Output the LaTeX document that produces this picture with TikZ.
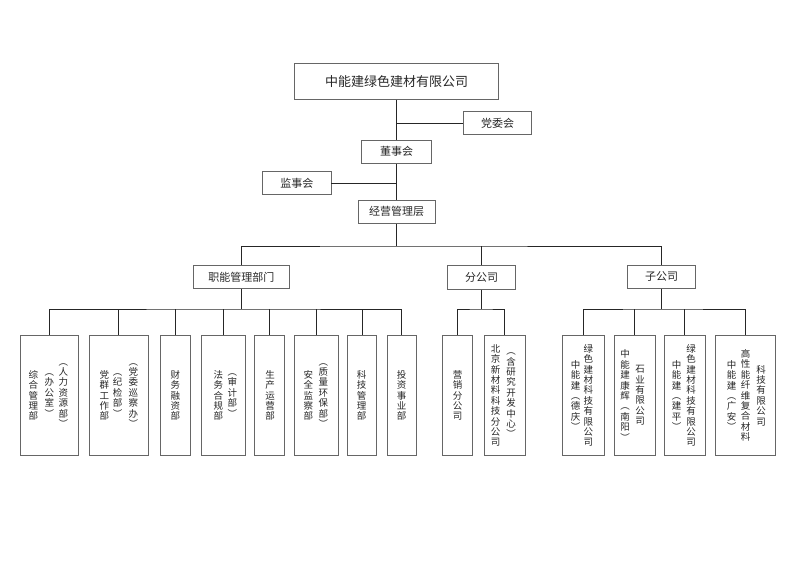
\documentclass[tikz,border=0pt]{standalone}
\usepackage{fontspec}
\setmainfont{Noto Sans CJK SC}

\begin{document}
\begin{tikzpicture}[x=1pt,y=-1pt,
  box/.style={draw=black!60, line width=0.9pt, inner sep=0pt, text=black!85, font=\fontsize{11}{13}\selectfont},
  col/.style={align=center, inner sep=0pt, text=black!85, font=\fontsize{9.5}{10.4}\selectfont},
  link/.style={draw=black!85, line width=0.7pt}]
\useasboundingbox (0,0) rectangle (800,565);

\node[box, minimum width=204.7pt, minimum height=36pt, font=\fontsize{13}{15}\selectfont] (v1) at (396.5,81.3) {中能建绿色建材有限公司};
\node[box, minimum width=68.4pt, minimum height=22.6pt] (v2) at (497.5,123) {党委会};
\node[box, minimum width=70pt, minimum height=23.3pt] (v3) at (396.5,151.7) {董事会};
\node[box, minimum width=68.3pt, minimum height=22.6pt] (v4) at (296.8,183) {监事会};
\node[box, minimum width=77pt, minimum height=23.3pt] (v5) at (396.5,211.7) {经营管理层};
\node[box, minimum width=96pt, minimum height=23pt] (v6) at (241.3,277.2) {职能管理部门};
\node[box, minimum width=68.4pt, minimum height=23.6pt] (v7) at (481.5,277.5) {分公司};
\node[box, minimum width=68.4pt, minimum height=23.7pt] (v8) at (661.5,276.8) {子公司};

\draw [link] (v1) -- (v3);
\draw [link] (v3) -- (v5);
\draw [link] (v2.west) -- (v2.west -| v1);
\draw [link] (v4.east) -- (v4.east -| v3);
\coordinate (b1) at (396.5,246);
\draw [link] (v5) -- (b1);
\draw [link] (v6) |- (b1) -| (v8);
\draw [link] (v7) -- (v7 |- b1);

\node[box, minimum width=58pt, minimum height=120pt] (w1) at (49.7,395.5) {};
\node[box, minimum width=59pt, minimum height=120pt] (w2) at (118.8,395.5) {};
\node[box, minimum width=29.3pt, minimum height=120pt] (w3) at (175.3,395.5) {};
\node[box, minimum width=44pt, minimum height=120pt] (w4) at (223.7,395.5) {};
\node[box, minimum width=30.4pt, minimum height=120pt] (w5) at (269.5,395.5) {};
\node[box, minimum width=44pt, minimum height=120pt] (w6) at (316.3,395.5) {};
\node[box, minimum width=29.4pt, minimum height=120pt] (w7) at (362,395.5) {};
\node[box, minimum width=29.7pt, minimum height=120pt] (w8) at (401.8,395.5) {};
\node[box, minimum width=30pt, minimum height=120pt] (w9) at (457.7,395.5) {};
\node[box, minimum width=40.7pt, minimum height=120pt] (w10) at (504.7,395.5) {};
\node[box, minimum width=41.7pt, minimum height=120pt] (w11) at (583.2,395.5) {};
\node[box, minimum width=41.7pt, minimum height=120pt] (w12) at (634.8,395.5) {};
\node[box, minimum width=40.3pt, minimum height=120pt] (w13) at (684.8,395.5) {};
\node[box, minimum width=59.7pt, minimum height=120pt] (w14) at (745.2,395.5) {};

\coordinate (b2) at (241.3,309);
\draw [link] (v6) -- (b2);
\draw [link] (w1) |- (b2) -| (w8);
\draw [link] (w2) -- (w2 |- b2);
\draw [link] (w3) -- (w3 |- b2);
\draw [link] (w4) -- (w4 |- b2);
\draw [link] (w5) -- (w5 |- b2);
\draw [link] (w6) -- (w6 |- b2);
\draw [link] (w7) -- (w7 |- b2);
\coordinate (b3) at (481.5,309);
\draw [link] (v7) -- (b3);
\draw [link] (w9) |- (b3) -| (w10);
\coordinate (b4) at (661.5,309);
\draw [link] (v8) -- (b4);
\draw [link] (w11) |- (b4) -| (w14);
\draw [link] (w12) -- (w12 |- b4);
\draw [link] (w13) -- (w13 |- b4);

\node[col] (t1a) at (33.3,395.5) {综\\合\\管\\理\\部};
\node[col] (t1b) at (49.3,395.5) {︵\\办\\公\\室\\︶};
\node[col] (t1c) at (63.3,395.5) {︵\\人\\力\\资\\源\\部\\︶};
\node[col] (t2a) at (104.3,395.5) {党\\群\\工\\作\\部};
\node[col] (t2b) at (117.7,395.5) {︵\\纪\\检\\部\\︶};
\node[col] (t2c) at (133.3,395.5) {︵\\党\\委\\巡\\察\\办\\︶};
\node[col] (t3a) at (175.3,395.5) {财\\务\\融\\资\\部};
\node[col] (t4a) at (218.3,395.5) {法\\务\\合\\规\\部};
\node[col] (t4b) at (232.3,395.5) {︵\\审\\计\\部\\︶};
\node[col] (t5a) at (270,395.5) {生\\产\\运\\营\\部};
\node[col] (t6a) at (308.3,395.5) {安\\全\\监\\察\\部};
\node[col] (t6b) at (323.3,395.5) {︵\\质\\量\\环\\保\\部\\︶};
\node[col] (t7a) at (361.7,395.5) {科\\技\\管\\理\\部};
\node[col] (t8a) at (401.7,395.5) {投\\资\\事\\业\\部};
\node[col] (t9a) at (457.7,395.5) {营\\销\\分\\公\\司};
\node[col] (t10a) at (495.7,395.5) {北\\京\\新\\材\\料\\科\\技\\分\\公\\司};
\node[col] (t10b) at (511,395.5) {︵\\含\\研\\究\\开\\发\\中\\心\\︶};
\node[col] (t11a) at (575.7,395.5) {中\\能\\建\\︵\\德\\庆\\︶};
\node[col] (t11b) at (588.3,395.5) {绿\\色\\建\\材\\科\\技\\有\\限\\公\\司};
\node[col] (t12a) at (625,395.5) {中\\能\\建\\康\\辉\\︵\\南\\阳\\︶};
\node[col] (t12b) at (640,395.5) {石\\业\\有\\限\\公\\司};
\node[col] (t13a) at (676.7,395.5) {中\\能\\建\\︵\\建\\平\\︶};
\node[col] (t13b) at (691,395.5) {绿\\色\\建\\材\\科\\技\\有\\限\\公\\司};
\node[col] (t14a) at (731.7,395.5) {中\\能\\建\\︵\\广\\安\\︶};
\node[col] (t14b) at (745.7,395.5) {高\\性\\能\\纤\\维\\复\\合\\材\\料};
\node[col] (t14c) at (761,395.5) {科\\技\\有\\限\\公\\司};
\end{tikzpicture}
\end{document}
